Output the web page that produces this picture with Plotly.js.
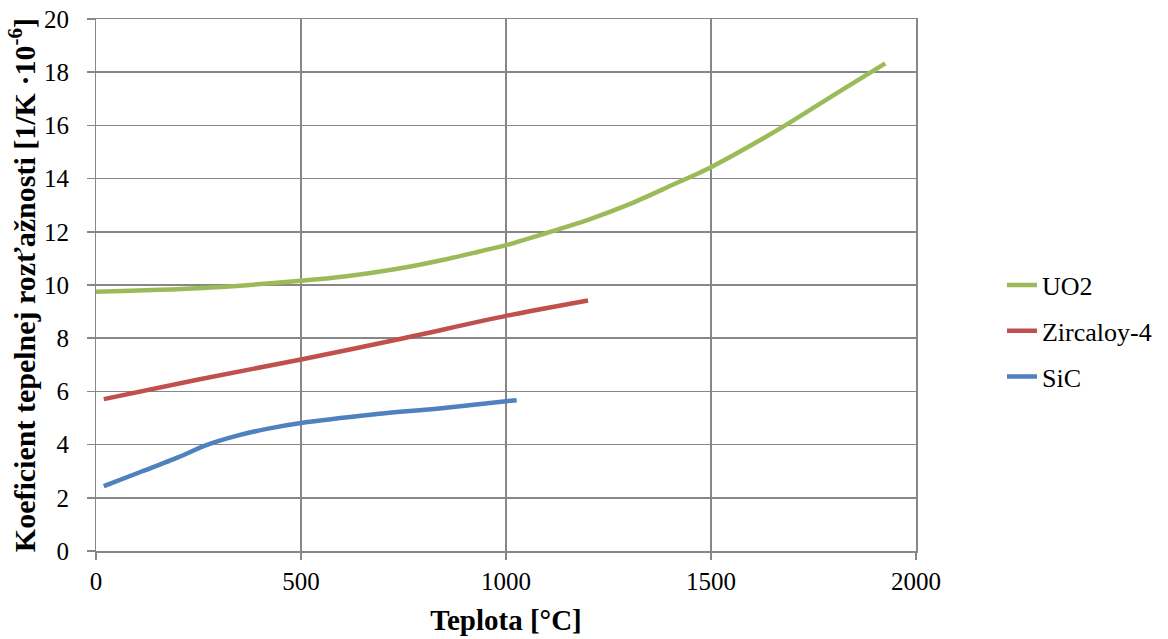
<!DOCTYPE html>
<html>
<head>
<meta charset="utf-8">
<script src="https://cdn.plot.ly/plotly-3.0.1.min.js"></script>
<style>html,body{margin:0;padding:0;background:#fff;}#chart{width:1168px;height:639px;}</style>
</head>
<body>
<div id="chart"></div>
<script>
const uo2X = [0, 250, 500, 611, 732, 854, 935, 1000, 1100, 1200, 1300, 1400, 1500, 1600, 1700, 1800, 1925];
const uo2Y = [9.75, 9.88, 10.16, 10.33, 10.6, 10.97, 11.26, 11.5, 11.96, 12.45, 13.03, 13.72, 14.43, 15.27, 16.18, 17.15, 18.33];
const zrX = [19, 250, 500, 750, 1000, 1200];
const zrY = [5.71, 6.45, 7.2, 8.0, 8.84, 9.42];
const sicX = [19, 110, 200, 269, 340, 420, 500, 675, 837, 1000, 1026];
const sicY = [2.44, 2.98, 3.52, 3.98, 4.32, 4.6, 4.81, 5.13, 5.36, 5.63, 5.67];
const seriesNames = ["UO2", "Zircaloy-4", "SiC"];
const xTitle = "Teplota [°C]";
const yTitle = "Koeficient tepelnej rozťažnosti [1/K ·10<sup>-6</sup>]";

const gridC = "#878787";
const fontF = "Liberation Serif, DejaVu Serif, serif";

const colors = ["#9BBB59", "#C0504D", "#4F81BD"];
const xs = [uo2X, zrX, sicX];
const ys = [uo2Y, zrY, sicY];
const traces = seriesNames.map((n, i) => ({
  x: xs[i], y: ys[i], name: n, legendgroup: "g" + i, mode: "lines",
  line: {color: colors[i], width: 4.5, shape: "spline", smoothing: 0.8}
}));

const layout = {
  width: 1168, height: 639,
  margin: {l: 96, r: 251, t: 19, b: 88},
  paper_bgcolor: "#fff", plot_bgcolor: "#fff",
  font: {family: fontF, color: "#000", size: 25},
  showlegend: true,
  legend: {x: 1.1035, y: 0.4135, xanchor: "left", yanchor: "middle", traceorder: "grouped", tracegroupgap: 9,
           font: {family: fontF, size: 26, color: "#000"}, itemwidth: 30},
  xaxis: {
    range: [0, 2000], dtick: 500, tick0: 0,
    showgrid: true, gridcolor: gridC, gridwidth: 1.5,
    zeroline: false, showline: true, linecolor: gridC, linewidth: 1.5, mirror: true,
    ticks: "outside", ticklen: 7, tickcolor: gridC, tickwidth: 1.5,
    tickfont: {family: fontF, size: 25, color: "#000"},
    title: {text: "<b>" + xTitle + "</b>", font: {family: fontF, size: 29, color: "#000"}, standoff: 16}
  },
  yaxis: {
    range: [0, 20], dtick: 2, tick0: 0,
    showgrid: true, gridcolor: gridC, gridwidth: 1.5,
    zeroline: false, showline: true, linecolor: gridC, linewidth: 1.5, mirror: true,
    ticks: "outside", ticklen: 8, tickcolor: gridC, tickwidth: 1.5,
    ticksuffix: "\u2007",
    tickfont: {family: fontF, size: 25, color: "#000"}
  },
  annotations: [{
    xref: "paper", yref: "paper", x: -0.09, y: 0.5, xanchor: "center", yanchor: "middle",
    textangle: -90, showarrow: false,
    text: "<b>" + yTitle + "</b>", font: {family: fontF, size: 30, color: "#000"}
  }]
};

Plotly.newPlot("chart", traces, layout, {displayModeBar: false, staticPlot: true});
</script>
</body>
</html>
